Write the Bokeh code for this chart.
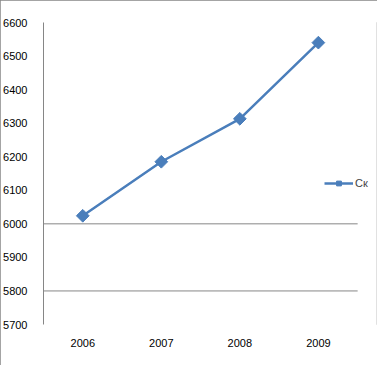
import math
from bokeh.plotting import figure
from bokeh.models import Range1d, FixedTicker, Legend, LegendItem, ColumnDataSource
from bokeh.embed import file_html
from bokeh.resources import INLINE

years = ["2006", "2007", "2008", "2009"]
values = [6024, 6185, 6313, 6540]
series_name = "Ск"
y_ticks = [5700, 5800, 5900, 6000, 6100, 6200, 6300, 6400, 6500, 6600]
grid_values = [5800, 6000]

FONT = "Liberation Sans"
COLOR = "#4A7EBB"
GRAY = "#868686"

xs = list(range(len(years)))
src = ColumnDataSource(dict(x=xs, y=values))

p = figure(width=377, height=365, output_backend="svg", toolbar_location=None,
           x_range=Range1d(-0.5, 3.74),
           y_range=Range1d(5700, 6600),
           min_border_left=41, min_border_right=1, min_border_top=22, min_border_bottom=41)
p.styles = {"outline": "1px solid #868686", "outline-offset": "-1px"}
p.outline_line_color = None
p.background_fill_color = "white"

# gridlines spanning the category area only
p.segment(x0=[xs[0] - 0.5] * len(grid_values), x1=[xs[-1] + 0.5] * len(grid_values),
          y0=grid_values, y1=grid_values, line_color=GRAY, line_width=1)

r_line = p.line("x", "y", source=src, line_color=COLOR, line_width=2.5)
r_mark = p.scatter("x", "y", source=src, marker="square", angle=math.pi / 4, size=9,
                   fill_color=COLOR, line_color=COLOR)

# axes
p.yaxis.ticker = FixedTicker(ticks=y_ticks)
p.yaxis.axis_line_color = GRAY
p.yaxis.major_tick_line_color = None
p.yaxis.minor_tick_line_color = None
p.yaxis.major_label_standoff = 10
p.yaxis.major_label_text_font = FONT
p.yaxis.major_label_text_font_size = "11px"
p.yaxis.major_label_text_color = "black"

p.xaxis.ticker = FixedTicker(ticks=xs)
p.xaxis.major_label_overrides = {i: y for i, y in zip(xs, years)}
p.xaxis.axis_line_color = None
p.xaxis.major_tick_line_color = None
p.xaxis.minor_tick_line_color = None
p.xaxis.major_label_standoff = 8
p.xaxis.major_label_text_font = FONT
p.xaxis.major_label_text_font_size = "11px"
p.xaxis.major_label_text_color = "black"

p.xgrid.grid_line_color = None
p.ygrid.grid_line_color = None

legend = Legend(items=[LegendItem(label=series_name, renderers=[r_line, r_mark])],
                location=(281, 135), padding=0, margin=0, spacing=0,
                glyph_width=29, glyph_height=12, label_standoff=2,
                label_text_font=FONT, label_text_font_size="11px",
                border_line_color=None, background_fill_alpha=0)
p.add_layout(legend, "center")

open("out.html", "w").write(file_html(p, INLINE))
